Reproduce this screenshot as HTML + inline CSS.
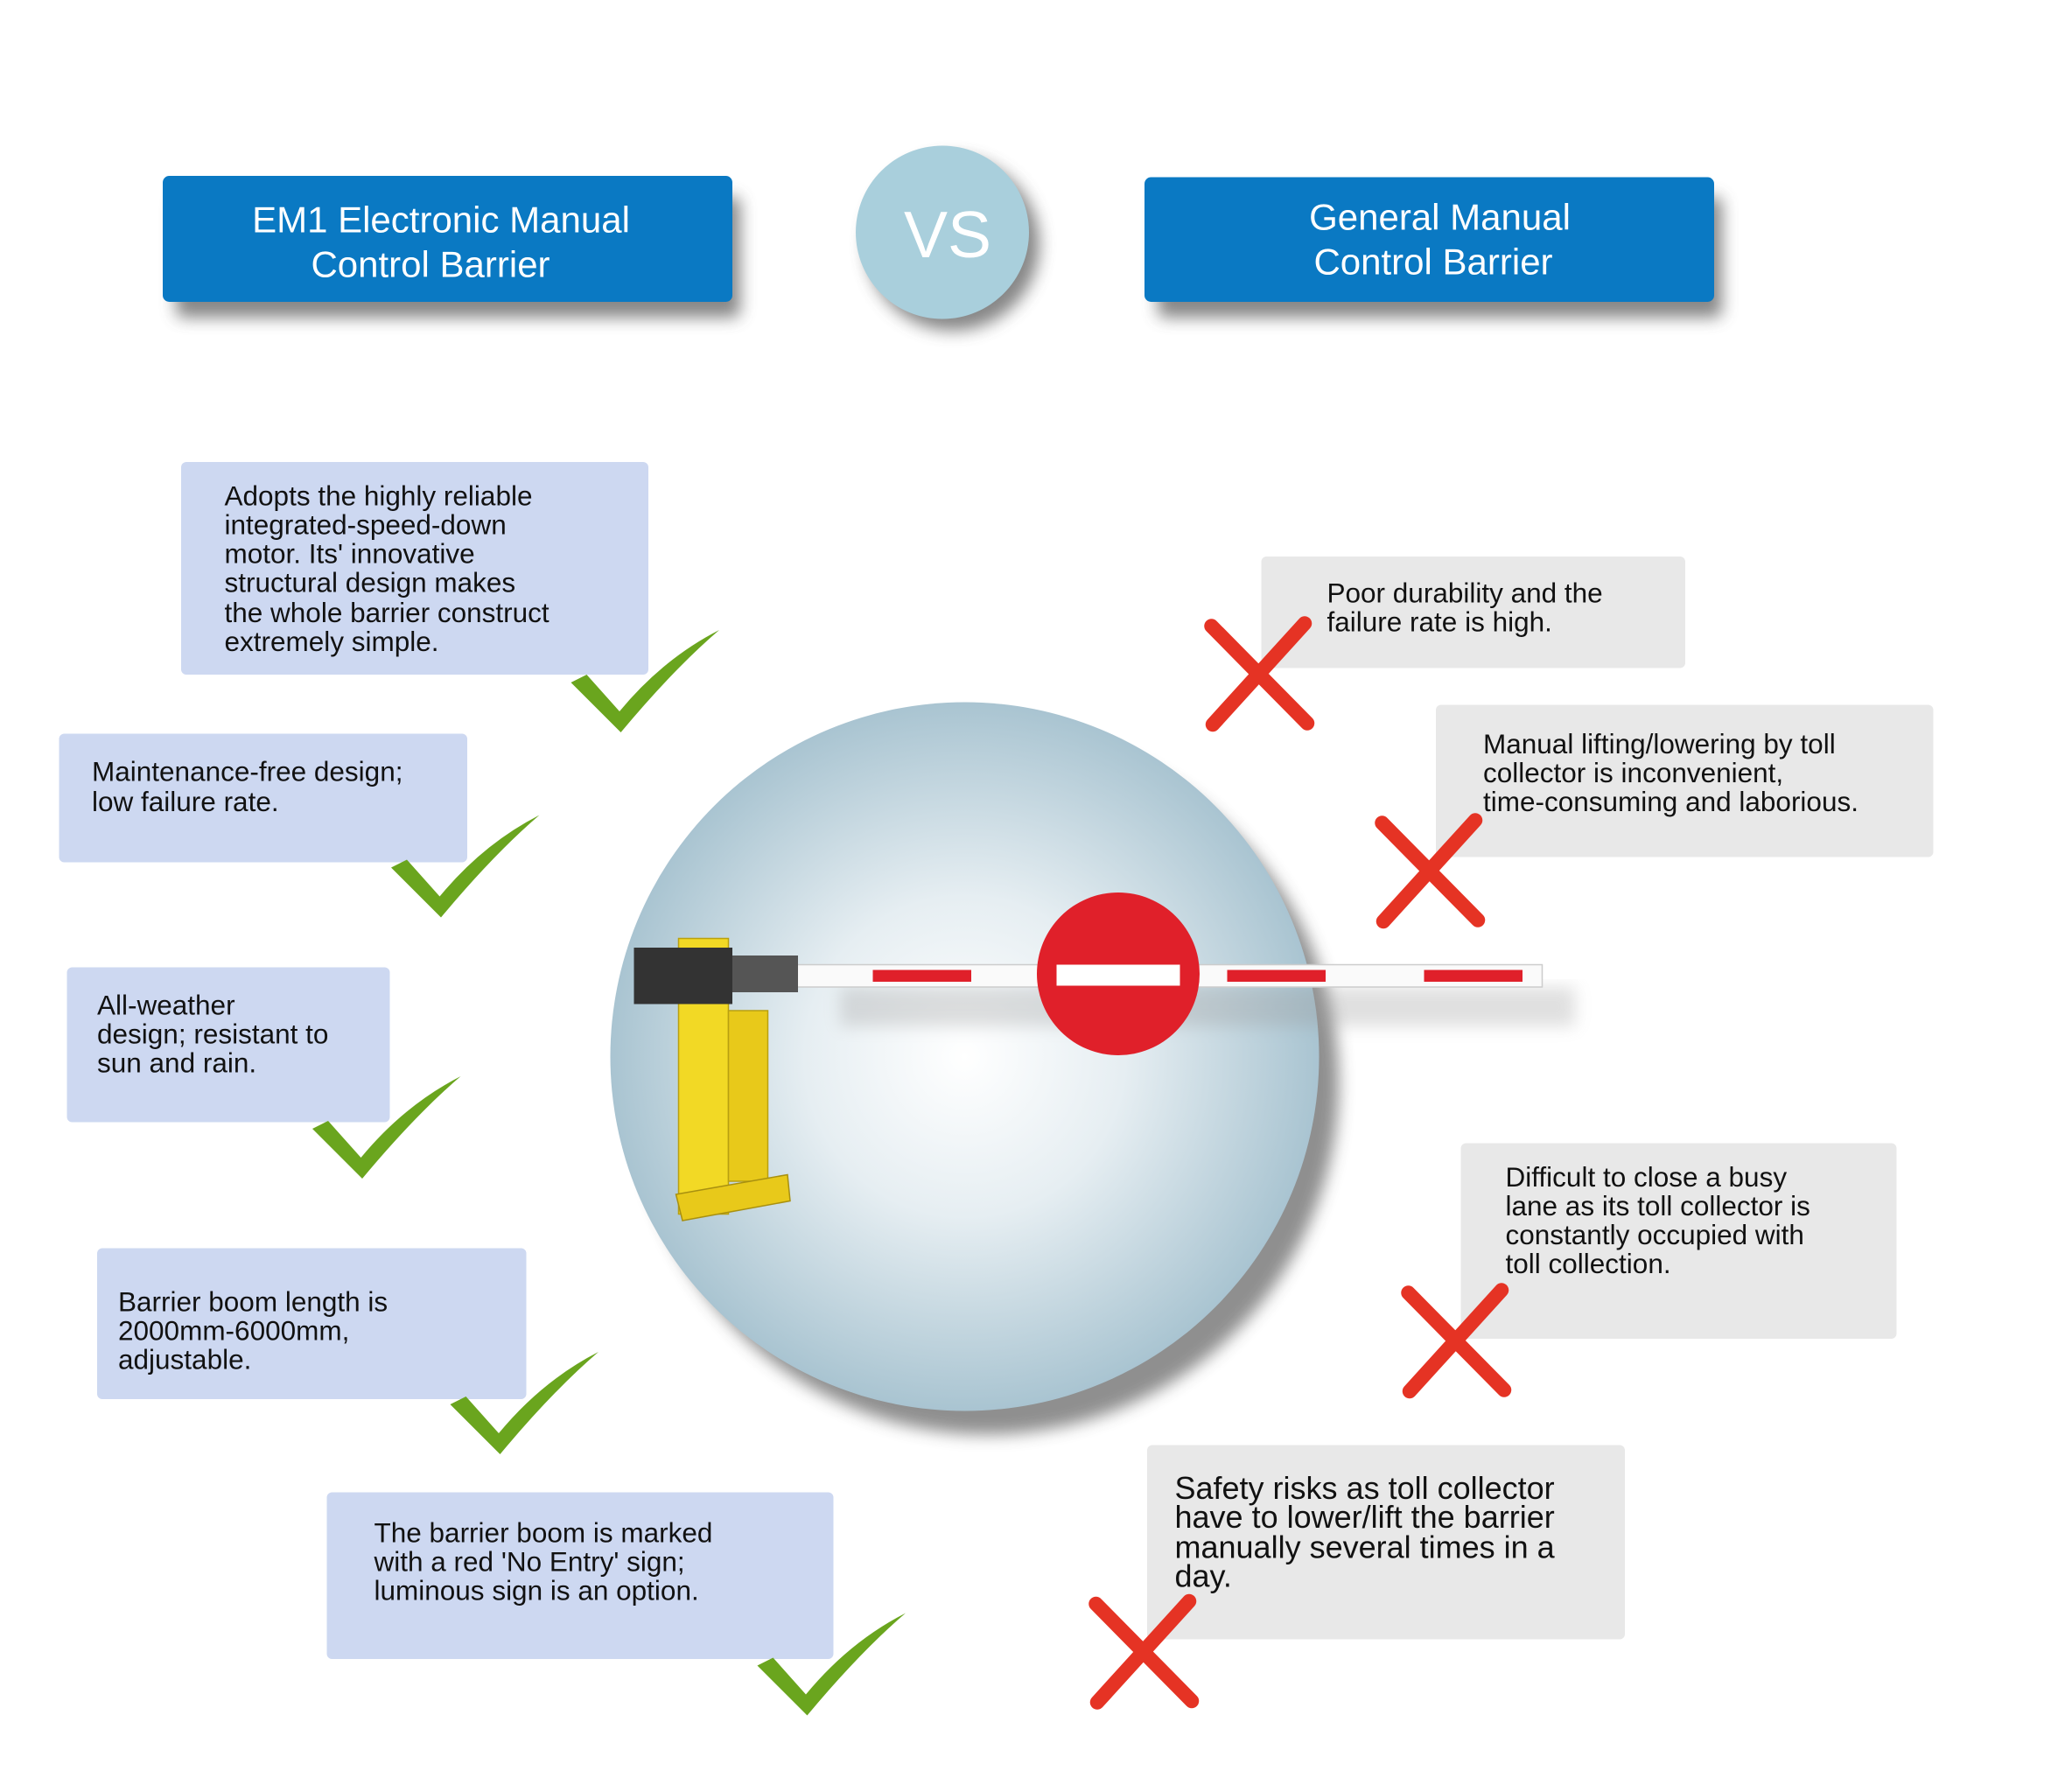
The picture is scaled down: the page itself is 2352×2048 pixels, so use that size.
<!DOCTYPE html>
<html><head><meta charset="utf-8"><style>
html,body{margin:0;padding:0;background:#fff;}
svg{display:block;}
text{font-family:"Liberation Sans",sans-serif;}
</style></head><body>
<svg width="2352" height="2048" viewBox="0 0 1568 1365.33" xmlns="http://www.w3.org/2000/svg">
<defs>
<radialGradient id="big" cx="0.5" cy="0.5" r="0.5">
<stop offset="0" stop-color="#ffffff"/><stop offset="0.45" stop-color="#e6eef2"/><stop offset="1" stop-color="#a9c4d1"/></radialGradient>
<filter id="sh" x="-20%" y="-20%" width="150%" height="160%"><feGaussianBlur stdDeviation="6"/></filter>
<g id="chk"><path d="M0,40 L12,34 L37,62 Q70,22 113,0 Q78,30 38,78 Z" fill="#6aa51e"/></g>
<g id="x"><path d="M-35,-38 L38,36 M36,-40 L-34,37" stroke="#e53324" stroke-width="11" stroke-linecap="round"/></g>
</defs>
<rect width="1568" height="1366" fill="#fff"/>
<rect x="134" y="150" width="430" height="92" rx="6" fill="#555" opacity="0.7" filter="url(#sh)"/>
<rect x="882" y="150" width="430" height="92" rx="6" fill="#555" opacity="0.7" filter="url(#sh)"/>
<circle cx="726" cy="186" r="66" fill="#555" opacity="0.7" filter="url(#sh)"/>
<rect x="124" y="134" width="434" height="96" rx="5" fill="#0a79c3"/>
<rect x="872" y="135" width="434" height="95" rx="5" fill="#0a79c3"/>
<circle cx="718" cy="177" r="66" fill="#a9cfdc"/>
<text x="336" y="177" font-size="28" fill="#fff" text-anchor="middle">EM1 Electronic Manual</text>
<text x="328" y="211" font-size="28" fill="#fff" text-anchor="middle">Control Barrier</text>
<text x="1097" y="175" font-size="28" fill="#fff" text-anchor="middle">General Manual</text>
<text x="1092" y="209" font-size="28" fill="#fff" text-anchor="middle">Control Barrier</text>
<text x="722" y="196" font-size="50" fill="#fff" text-anchor="middle">VS</text>
<circle cx="752" cy="825" r="268" fill="#444" opacity="0.6" filter="url(#sh)"/>
<circle cx="735" cy="805" r="270" fill="url(#big)"/>
<rect x="640" y="752" width="560" height="30" fill="#999" opacity="0.3" filter="url(#sh)"/>
<rect x="600" y="735" width="575" height="17" fill="#fafafa" stroke="#ccc" stroke-width="1"/>
<rect x="665" y="739" width="75" height="9" fill="#e0202a"/>
<rect x="935" y="739" width="75" height="9" fill="#e0202a"/>
<rect x="1085" y="739" width="75" height="9" fill="#e0202a"/>
<rect x="517" y="715" width="38" height="210" fill="#f2d925" stroke="#b9a010"/>
<rect x="555" y="770" width="30" height="130" fill="#e8c91a" stroke="#b9a010"/>
<polygon points="515,910 600,895 602,915 520,930" fill="#e8c91a" stroke="#a89010"/>
<rect x="483" y="722" width="75" height="43" fill="#333"/>
<rect x="558" y="728" width="50" height="28" fill="#555"/>
<circle cx="852" cy="742" r="62" fill="#e0202a"/>
<rect x="805" y="735" width="94" height="16" fill="#fff"/>
<g fill="#cdd8f1">
<rect x="138" y="352" width="356" height="162" rx="4"/>
<rect x="45" y="559" width="311" height="98" rx="4"/>
<rect x="51" y="737" width="246" height="118" rx="4"/>
<rect x="74" y="951" width="327" height="115" rx="4"/>
<rect x="249" y="1137" width="386" height="127" rx="4"/>
</g>
<g font-size="21" fill="#111">
<text x="171" y="385">Adopts the highly reliable</text>
<text x="171" y="407">integrated-speed-down</text>
<text x="171" y="429">motor. Its' innovative</text>
<text x="171" y="451">structural design makes</text>
<text x="171" y="474">the whole barrier construct</text>
<text x="171" y="496">extremely simple.</text>
<text x="70" y="595">Maintenance-free design;</text>
<text x="70" y="618">low failure rate.</text>
<text x="74" y="773">All-weather</text>
<text x="74" y="795">design; resistant to</text>
<text x="74" y="817">sun and rain.</text>
<text x="90" y="999">Barrier boom length is</text>
<text x="90" y="1021">2000mm-6000mm,</text>
<text x="90" y="1043">adjustable.</text>
<text x="285" y="1175">The barrier boom is marked</text>
<text x="285" y="1197">with a red 'No Entry' sign;</text>
<text x="285" y="1219">luminous sign is an option.</text>
</g>
<use href="#chk" x="435" y="480"/>
<use href="#chk" x="298" y="621"/>
<use href="#chk" x="238" y="820"/>
<use href="#chk" x="343" y="1030"/>
<use href="#chk" x="577" y="1229"/>
<g fill="#e8e8e8">
<rect x="961" y="424" width="323" height="85" rx="4"/>
<rect x="1094" y="537" width="379" height="116" rx="4"/>
<rect x="1113" y="871" width="332" height="149" rx="4"/>
<rect x="874" y="1101" width="364" height="148" rx="4"/>
</g>
<g font-size="21" fill="#111">
<text x="1011" y="459">Poor durability and the</text>
<text x="1011" y="481">failure rate is high.</text>
<text x="1130" y="574">Manual lifting/lowering by toll</text>
<text x="1130" y="596">collector is inconvenient,</text>
<text x="1130" y="618">time-consuming and laborious.</text>
<text x="1147" y="904">Difficult to close a busy</text>
<text x="1147" y="926">lane as its toll collector is</text>
<text x="1147" y="948">constantly occupied with</text>
<text x="1147" y="970">toll collection.</text>
</g>
<g font-size="24" fill="#111">
<text x="895" y="1142">Safety risks as toll collector</text>
<text x="895" y="1164">have to lower/lift the barrier</text>
<text x="895" y="1187">manually several times in a</text>
<text x="895" y="1209">day.</text>
</g>
<use href="#x" x="958" y="515"/>
<use href="#x" x="1088" y="665"/>
<use href="#x" x="1108" y="1023"/>
<use href="#x" x="870" y="1260"/>
</svg>
</body></html>
